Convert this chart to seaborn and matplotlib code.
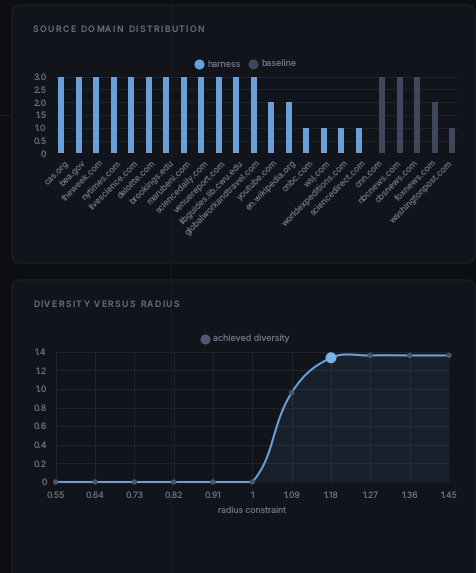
import numpy as np
import pandas as pd
import matplotlib
matplotlib.use("Agg")
import matplotlib.pyplot as plt
import seaborn as sns
from matplotlib.patches import FancyBboxPatch
from matplotlib.lines import Line2D
from matplotlib.font_manager import FontProperties, findfont
from matplotlib.ft2font import FT2Font

# ---------------- data ----------------
domains = ["cas.org", "bea.gov", "theweek.com", "nytimes.com", "livescience.com",
           "deloitte.com", "brookings.edu", "marubeni.com", "sciencedaily.com",
           "venuereport.com", "libguides.lib.cwu.edu", "globalworkandtravel.com",
           "youtube.com", "en.wikipedia.org", "cnbc.com", "wsj.com",
           "worldexpeditions.com", "sciencedirect.com", "cnn.com", "nbcnews.com",
           "cbsnews.com", "foxnews.com", "washingtonpost.com"]
harness = [3, 3, 3, 3, 3, 3, 3, 3, 3, 3, 3, 3, 2, 2, 1, 1, 1, 1, 0, 0, 0, 0, 0]
baseline = [0] * 18 + [3, 3, 3, 2, 1]
bar_yticks = [0, 0.5, 1.0, 1.5, 2.0, 2.5, 3.0]
bar_ytick_labels = ["0", "0.5", "1.0", "1.5", "2.0", "2.5", "3.0"]

radius = ["0.55", "0.64", "0.73", "0.82", "0.91", "1", "1.09", "1.18", "1.27", "1.36", "1.45"]
diversity = [0, 0, 0, 0, 0, 0, 0.96, 1.335, 1.36, 1.36, 1.36]
highlight_index = 7
div_yticks = [0, 0.2, 0.4, 0.6, 0.8, 1.0, 1.2, 1.4]
div_ytick_labels = ["0", "0.2", "0.4", "0.6", "0.8", "1.0", "1.2", "1.4"]

# ---------------- style ----------------
W, H = 476, 573
DPI = 100
PAGE = "#0c0e13"
PANEL = "#12141b"
PANEL_EDGE = "#1e222b"
GRID = "#1f232d"
TICK = "#6a7283"
TITLE = "#646c7d"
BLUE = "#6a9fd8"
BASE = "#3f475a"
POINT = "#4a5567"

sns.set_theme(style="dark")
plt.rcParams["font.family"] = ["Inter", "DejaVu Sans"]
plt.rcParams["text.hinting"] = "no_hinting"
plt.rcParams["text.hinting_factor"] = 1

fig = plt.figure(figsize=(W / DPI, H / DPI), dpi=DPI, facecolor=PAGE)


def fx(px):
    return px / W


def fy(py):
    return 1 - py / H


# crosshair lines (faint)
fig.add_artist(Line2D([0, 1], [fy(115), fy(115)], color="#191c24", lw=0.8, zorder=0.1))

# panels
for (x0, y0, x1, y1) in [(12, 5, 475, 263), (12, 280, 475, 600)]:
    p = FancyBboxPatch((fx(x0), fy(y1)), fx(x1 - x0), (y1 - y0) / H,
                       boxstyle="round,pad=0,rounding_size=0.016",
                       transform=fig.transFigure, facecolor=PANEL,
                       edgecolor=PANEL_EDGE, lw=0.8, zorder=0.2)
    fig.add_artist(p)

fig.add_artist(Line2D([fx(171), fx(171)], [0, 1], color="#181b23", lw=0.8, zorder=0.3))


def spaced_text(s, x_px, y_px, target_w, size=6.2, color=TITLE, weight="medium"):
    prop = FontProperties(family=["Inter"], weight=weight, size=size)
    font = FT2Font(findfont(prop))
    font.set_size(size, DPI)
    advs = [font.load_char(ord(ch)).linearHoriAdvance / 65536.0 for ch in s]
    natural = sum(advs)
    sp = (target_w - natural) / (len(s) - 1)
    x = x_px
    for ch, a in zip(s, advs):
        fig.text(fx(x), fy(y_px), ch, fontproperties=prop, color=color,
                 va="center", ha="left", zorder=3)
        x += a + sp


spaced_text("SOURCE DOMAIN DISTRIBUTION", 33, 30, 171)
spaced_text("DIVERSITY VERSUS RADIUS", 33, 305, 146)


def legend_dot(xp, yp, color, size_px=10):
    fig.add_artist(Line2D([fx(xp)], [fy(yp)], marker="o", markersize=size_px * 0.72,
                          color=color, markeredgewidth=0, lw=0, zorder=3))


# ---------------- bar chart ----------------
ax1 = fig.add_axes([fx(55.5), fy(153.3), fx(458 - 55.5), (153.3 - 76.7) / H])
ax1.set_zorder(2)
ax1.set_facecolor("none")
df = pd.DataFrame({
    "domain": domains * 2,
    "count": harness + baseline,
    "series": ["harness"] * len(domains) + ["baseline"] * len(domains),
})
sns.barplot(data=df, x="domain", y="count", hue="series", order=domains,
            hue_order=["harness", "baseline"], palette=[BLUE, BASE],
            width=0.7, dodge=True, ax=ax1, legend=False, saturation=1,
            edgecolor="none", linewidth=0, err_kws={"linewidth": 0})
ax1.set_ylim(0, 3.0)
ax1.set_xlim(-0.5, len(domains) - 0.5)
ax1.set_yticks(bar_yticks)
ax1.set_yticklabels(bar_ytick_labels)
ax1.set_xlabel("")
ax1.set_ylabel("")
ax1.grid(axis="y", color=GRID, lw=0.8)
ax1.grid(axis="x", visible=False)
ax1.set_axisbelow(True)
for s in ax1.spines.values():
    s.set_visible(False)
ax1.tick_params(axis="y", length=0, pad=6.5, labelsize=6.2, labelcolor=TICK)
ax1.tick_params(axis="x", length=0, pad=4, labelsize=6.2, labelcolor=TICK)
for lab in ax1.get_xticklabels():
    lab.set_rotation(45)
    lab.set_ha("right")
    lab.set_va("top")
    lab.set_rotation_mode("anchor")

legend_dot(199, 64, BLUE)
fig.text(fx(207), fy(64), "harness", fontsize=6.4, color=TICK, va="center", ha="left")
legend_dot(253, 64, BASE)
fig.text(fx(261), fy(64), "baseline", fontsize=6.4, color=TICK, va="center", ha="left")

# ---------------- line chart ----------------
ax2 = fig.add_axes([fx(55.7), fy(482), fx(449 - 55.7), (482 - 351.7) / H])
ax2.set_zorder(2)
ax2.set_facecolor("none")
xs = np.arange(len(radius), dtype=float)
ax2.set_xlim(0, len(radius) - 1)
ax2.set_ylim(0, 1.4)

# smooth (Chart.js-style bezier, tension 0.4) in display space
pts = ax2.transData.transform(np.column_stack([xs, diversity]))
bbox = ax2.bbox
tension = 0.4
n = len(pts)
cp_prev = np.zeros_like(pts)
cp_next = np.zeros_like(pts)
for i in range(n):
    p0 = pts[max(i - 1, 0)]
    p1 = pts[i]
    p2 = pts[min(i + 1, n - 1)]
    d01 = np.hypot(*(p1 - p0))
    d12 = np.hypot(*(p2 - p1))
    tot = d01 + d12
    s01 = d01 / tot if tot else 0
    s12 = d12 / tot if tot else 0
    cp_prev[i] = p1 - tension * s01 * (p2 - p0)
    cp_next[i] = p1 + tension * s12 * (p2 - p0)
for cp in (cp_prev, cp_next):
    cp[:, 0] = np.clip(cp[:, 0], bbox.x0, bbox.x1)
    cp[:, 1] = np.clip(cp[:, 1], bbox.y0, bbox.y1)
curve = []
tt = np.linspace(0, 1, 40)[:, None]
for i in range(n - 1):
    a, b, c, d = pts[i], cp_next[i], cp_prev[i + 1], pts[i + 1]
    seg = ((1 - tt) ** 3) * a + 3 * ((1 - tt) ** 2) * tt * b + 3 * (1 - tt) * tt ** 2 * c + tt ** 3 * d
    curve.append(seg if i == 0 else seg[1:])
curve = ax2.transData.inverted().transform(np.vstack(curve))
cx, cy = curve[:, 0], np.clip(curve[:, 1], 0, None)

ax2.fill_between(cx, cy, 0, color=BLUE, alpha=0.09, lw=0, zorder=1)
sns.lineplot(x=cx, y=cy, color=BLUE, lw=1.5, ax=ax2, sort=False, zorder=2)
for l in ax2.lines:
    l.set_clip_on(False)
other = [i for i in range(n) if i != highlight_index]
sns.scatterplot(x=xs[other], y=np.array(diversity)[other], color=POINT, s=15,
                edgecolor="none", ax=ax2, zorder=3, clip_on=False)
sns.scatterplot(x=[xs[highlight_index]], y=[diversity[highlight_index]], color="#7cb0e8",
                s=62, edgecolor="none", ax=ax2, zorder=4, clip_on=False)

ax2.set_xticks(xs)
ax2.set_xticklabels(radius)
ax2.set_yticks(div_yticks)
ax2.set_yticklabels(div_ytick_labels)
ax2.grid(True, color=GRID, lw=0.8)
ax2.set_axisbelow(True)
for s in ax2.spines.values():
    s.set_visible(False)
ax2.tick_params(axis="y", length=0, pad=6.5, labelsize=6.2, labelcolor=TICK)
ax2.tick_params(axis="x", length=0, pad=6.5, labelsize=6.2, labelcolor=TICK)
ax2.set_xlabel("radius constraint", fontsize=6.2, color=TICK, labelpad=5)
ax2.set_ylabel("")

legend_dot(205, 339, "#4a5a72")
fig.text(fx(213), fy(339), "achieved diversity", fontsize=6.4, color=TICK,
         va="center", ha="left")

fig.savefig("out.png", dpi=DPI, facecolor=PAGE)
